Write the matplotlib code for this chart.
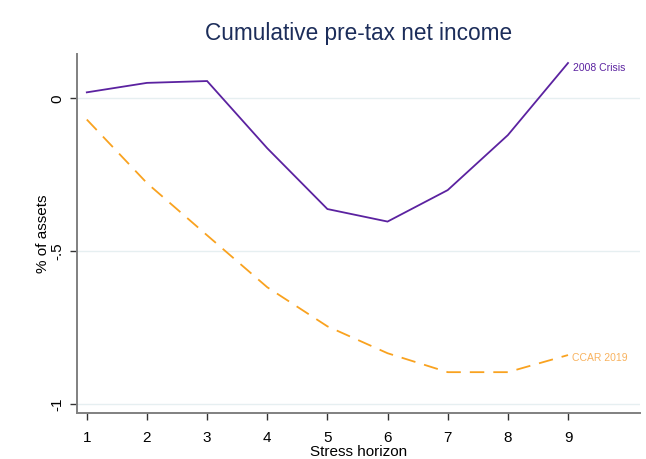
import matplotlib
matplotlib.use("Agg")
import matplotlib.pyplot as plt

plt.rcParams["font.family"] = ["Liberation Sans", "DejaVu Sans"]

horizon = [1, 2, 3, 4, 5, 6, 7, 8, 9]
crisis_2008 = [0.020, 0.051, 0.057, -0.163, -0.362, -0.403, -0.300, -0.120, 0.116]
ccar_2019 = [-0.069, -0.277, -0.448, -0.618, -0.746, -0.834, -0.896, -0.896, -0.840]
y_ticks = [0, -0.5, -1]
y_tick_labels = ["0", "-.5", "-1"]

PURPLE = "#5b22a0"
ORANGE = "#f9a21f"
ORANGE_TEXT = "#f8b25e"
AXIS_GREY = "#808080"

fig = plt.figure(figsize=(6.46, 4.59), dpi=100)
ax = fig.add_axes([0.119, 0.100, 0.872, 0.782])

ax.plot(horizon, crisis_2008, color=PURPLE, linewidth=1.3, solid_joinstyle="miter")
ax.plot(horizon, ccar_2019, color=ORANGE, linewidth=1.3, dashes=(8, 5))

ax.text(horizon[-1] + 0.09, crisis_2008[-1] - 0.015, "2008 Crisis",
        color=PURPLE, fontsize=7.5, ha="left", va="center")
ax.text(horizon[-1] + 0.07, ccar_2019[-1] - 0.01, "CCAR 2019",
        color=ORANGE_TEXT, fontsize=7.5, ha="left", va="center")

ax.set_xlim(0.835, 10.2)
ax.set_ylim(-1.030, 0.145)
ax.set_xticks(horizon)
ax.set_yticks(y_ticks, y_tick_labels)
for lbl in ax.get_yticklabels():
    lbl.set_rotation(90)
    lbl.set_va("center")

ax.grid(True, axis="y", color="#e6eff1", linewidth=1.0)
ax.set_axisbelow(True)

for side in ("top", "right"):
    ax.spines[side].set_visible(False)
for side in ("left", "bottom"):
    ax.spines[side].set_color(AXIS_GREY)
    ax.spines[side].set_linewidth(1.4)
ax.tick_params(axis="both", colors="#333333", labelcolor="black",
               labelsize=11, length=5, width=1.0, direction="out")
ax.tick_params(axis="x", pad=8)
ax.tick_params(axis="y", pad=4)

ax.set_xlabel("Stress horizon", fontsize=11, labelpad=0)
ax.set_ylabel("% of assets", fontsize=11)
ax.yaxis.set_label_coords(-0.047, 0.5)
ax.set_title("Cumulative pre-tax net income", fontsize=16.3, color="#1c2d5a", pad=10)

fig.savefig("out.png", dpi=100)
